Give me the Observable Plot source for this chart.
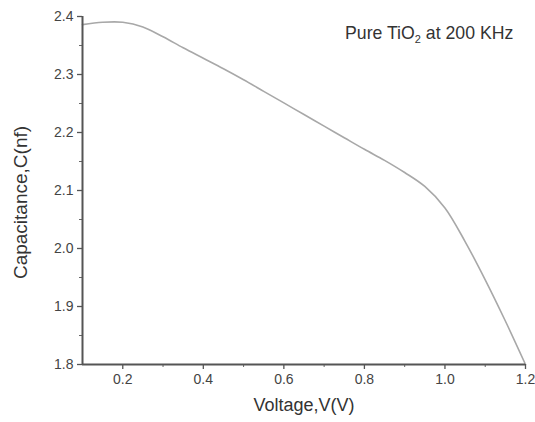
<!DOCTYPE html>
<html>
<head>
<meta charset="utf-8">
<script src="https://cdn.jsdelivr.net/npm/d3@7"></script>
<script src="https://cdn.jsdelivr.net/npm/@observablehq/plot@0.6"></script>
<style>
  html, body { margin: 0; padding: 0; background: #fff; }
  #wrap { position: relative; width: 535px; height: 422px; }
  #note { position: absolute; left: 345px; top: 23px; font: 17.7px "Liberation Sans", Arial, sans-serif; color: #333; white-space: nowrap; }
  #note sub { font-size: 11px; vertical-align: -4px; line-height: 0; }
</style>
</head>
<body>
<div id="wrap"><div id="note">Pure TiO<sub>2</sub> at 200 KHz</div></div>
<script>
const voltage = [0.10, 0.15, 0.20, 0.25, 0.30, 0.35, 0.40, 0.45, 0.50, 0.55, 0.60, 0.65, 0.70, 0.75, 0.80, 0.85, 0.90, 0.95, 1.00, 1.05, 1.10, 1.15, 1.20];
const capacitance = [2.386, 2.390, 2.390, 2.382, 2.365, 2.346, 2.328, 2.310, 2.291, 2.271, 2.251, 2.231, 2.211, 2.191, 2.171, 2.152, 2.131, 2.107, 2.070, 2.012, 1.946, 1.875, 1.800];
const xTicks = [0.2, 0.4, 0.6, 0.8, 1.0, 1.2];
const xMinor = [0.3, 0.5, 0.7, 0.9, 1.1];
const yTicks = [1.8, 1.9, 2.0, 2.1, 2.2, 2.3, 2.4];
const yMinor = [1.85, 1.95, 2.05, 2.15, 2.25, 2.35];
const xLabel = "Voltage,V(V)";
const yLabel = "Capacitance,C(nf)";

const data = voltage.map((v, i) => ({v, c: capacitance[i]}));
const font = "Liberation Sans, Arial, sans-serif";

const chart = Plot.plot({
  width: 535,
  height: 422,
  marginLeft: 82,
  marginRight: 10,
  marginTop: 16,
  marginBottom: 58,
  style: {fontFamily: font, fontSize: "14px", color: "#444", background: "#fff"},
  x: {domain: [0.1, 1.2]},
  y: {domain: [1.8, 2.4]},
  marks: [
    Plot.line(data, {x: "v", y: "c", stroke: "#a8a8a8", strokeWidth: 1.6, curve: "catmull-rom"}),
    Plot.axisX(xTicks, {tickSize: 5, tickPadding: 5, stroke: "#555", strokeWidth: 1.3, tickFormat: d => d.toFixed(1), fontSize: 14, fill: "#444", label: null}),
    Plot.axisX(xMinor, {tickSize: 3, tickFormat: () => "", stroke: "#666", label: null}),
    Plot.axisY(yTicks, {tickSize: 5, tickPadding: 4, stroke: "#555", strokeWidth: 1.3, tickFormat: d => d.toFixed(1), fontSize: 14, fill: "#444", label: null}),
    Plot.axisY(yMinor, {tickSize: 3, tickFormat: () => "", stroke: "#666", label: null}),
    Plot.ruleX([0.1], {stroke: "#555", strokeWidth: 2}),
    Plot.ruleY([1.8], {stroke: "#555", strokeWidth: 2}),
    Plot.text([xLabel], {frameAnchor: "bottom", dy: 46, fontSize: 18, fill: "#333"}),
    Plot.text([yLabel], {frameAnchor: "left", textAnchor: "middle", dx: -62, dy: 12, rotate: -90, fontSize: 19, fill: "#333"})
  ]
});
document.getElementById("wrap").prepend(chart);
</script>
</body>
</html>
